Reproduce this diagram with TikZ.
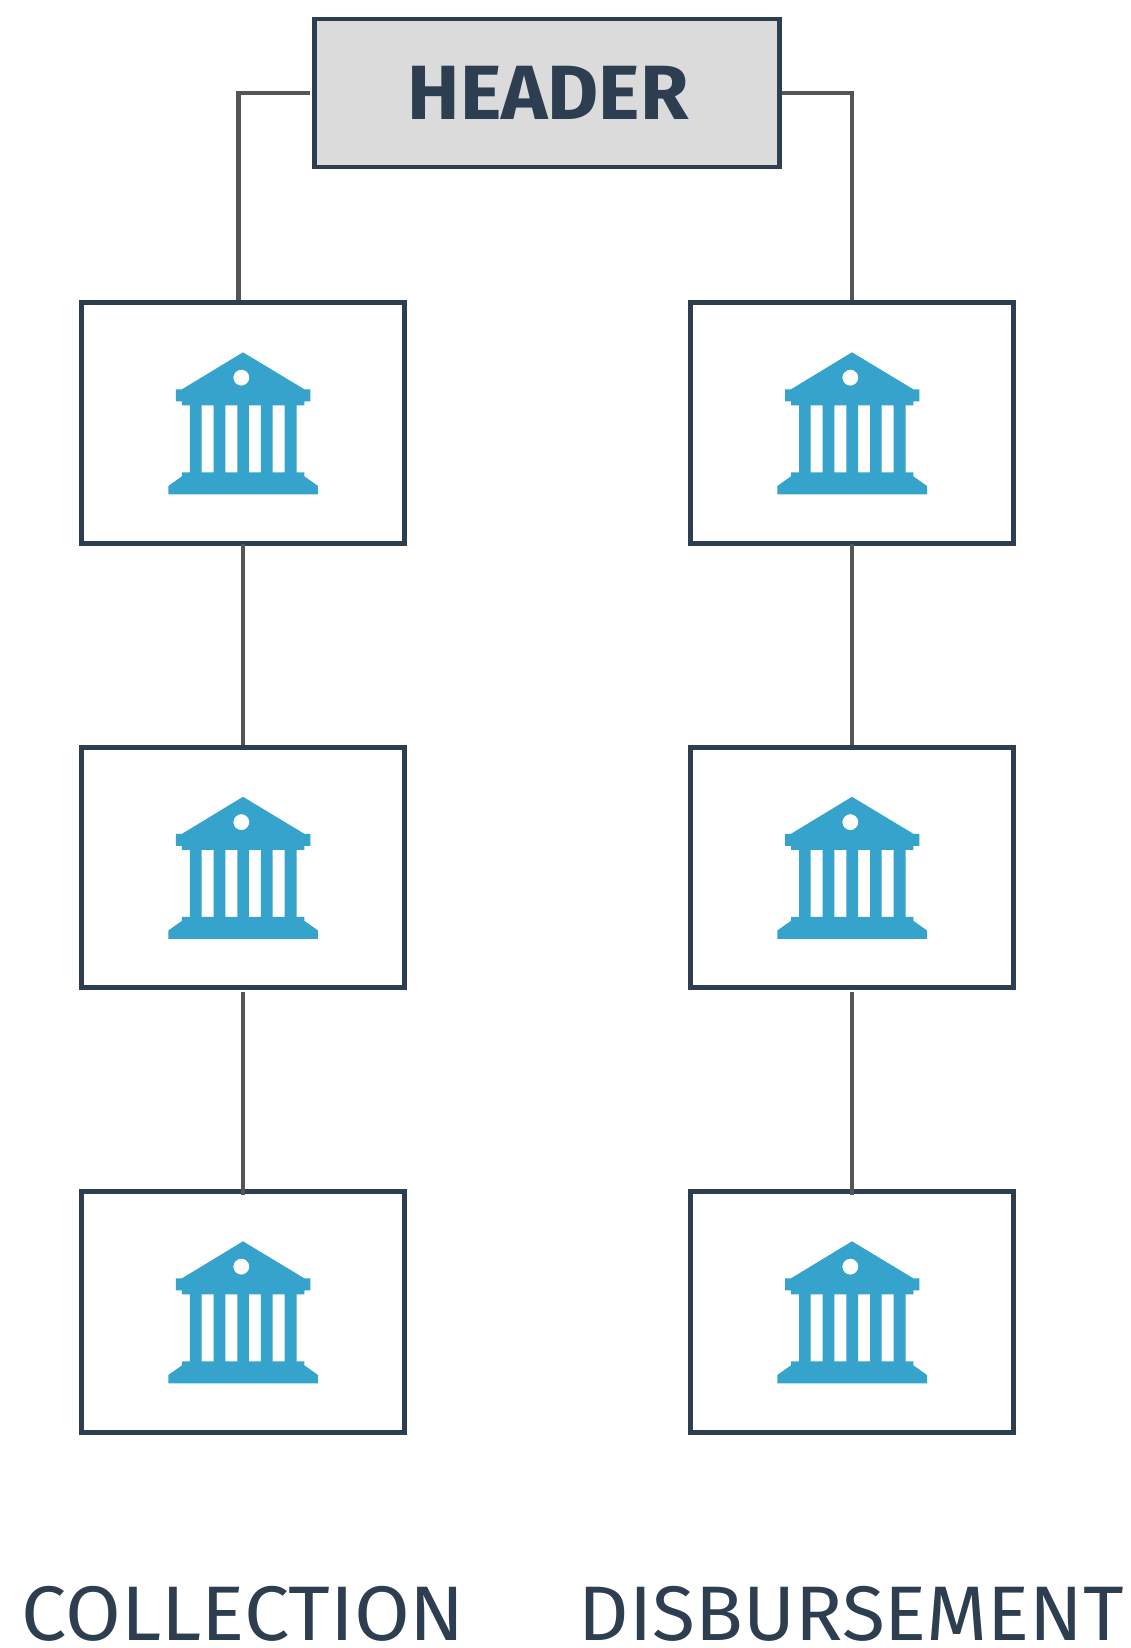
\documentclass[tikz,border=0pt]{standalone}
\usepackage{fontspec}
\setmainfont{Liberation Sans}
\newfontfamily\lightfont{Fira Sans}
\newfontfamily\boldfont{Fira Sans Bold}
\definecolor{navy}{HTML}{2C3E50}
\definecolor{link}{HTML}{555555}
\definecolor{hdrfill}{HTML}{DBDBDB}
\definecolor{bank}{HTML}{36A3CD}
\tikzset{
  x=1pt,y=-1pt,
  hdrbox/.style={draw=navy,line width=4.6pt,fill=hdrfill,rectangle,minimum width=465pt,minimum height=148pt,inner sep=0pt,text=navy},
  bankbox/.style={draw=navy,line width=4.6pt,fill=white,rectangle,minimum width=323.5pt,minimum height=240.5pt,inner sep=0pt},
  linkline/.style={draw=link,line width=4.6pt},
  caption/.style={text=navy,inner sep=0pt,anchor=base},
  bankicon/.pic={
    \fill[bank,even odd rule,shift={(-92.67,-12.33)},scale=1/3]
      (278,37)--(462,148)--(480,148)--(480,184)--(462,184)--(462,196)--(439,196)--(439,397)--(462,397)--(462,409)--(503,438)--(503,463)--(54,463)--(54,438)--(95,409)--(95,397)--(119,397)--(119,196)--(95,196)--(95,184)--(77,184)--(77,148)--(95,148)--cycle
      (154,196) rectangle (190,397)
      (225,196) rectangle (261,397)
      (296,196) rectangle (332,397)
      (367,196) rectangle (403,397)
      (273,113) circle[radius=24];
  }
}
\begin{document}
\begin{tikzpicture}
\useasboundingbox (0,0) rectangle (1130,1648);
\node[hdrbox] (hdr) at (547.25,92.85) {\hspace*{2pt}\resizebox{281pt}{53.3pt}{\boldfont HEADER}};
\foreach \r/\y in {1/423,2/867.5,3/1312}{
  \node[bankbox] (l\r) at (243,\y) {};
  \node[bankbox] (r\r) at (852,\y) {};
}
\foreach \n in {l1,l2,l3,r1,r2,r3}{
  \pic at ([yshift=70.7pt]\n.center) {bankicon};
}
\draw[linkline] ([xshift=-2.5pt]hdr.west) -| ([xshift=-4.3pt]l1.north);
\draw[linkline] (hdr.east) -| (r1.north);
\draw[linkline] ([yshift=2pt]l1.south) -- (l2.north);
\draw[linkline] ([yshift=2pt]r1.south) -- (r2.north);
\draw[linkline] ([yshift=-1.5pt]l2.south) -- ([yshift=-5.7pt]l3.north);
\draw[linkline] ([yshift=-1.5pt]r2.south) -- ([yshift=-5.7pt]r3.north);
\node[caption] (cap1) at (243.5,1640) {\resizebox{443pt}{54.2pt}{\lightfont COLLECTION}};
\node[caption] (cap2) at (851.5,1640) {\resizebox{545pt}{54.2pt}{\lightfont DISBURSEMENT}};
\end{tikzpicture}
\end{document}
